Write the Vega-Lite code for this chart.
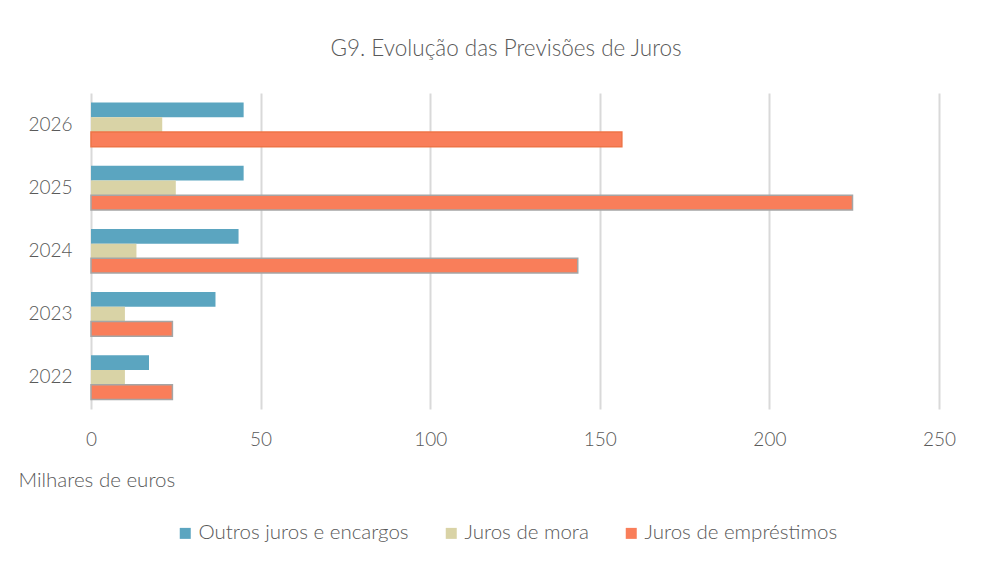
{
  "$schema": "https://vega.github.io/schema/vega-lite/v6.json",
  "autosize": "none",
  "width": 848,
  "height": 316,
  "padding": {"left": 91, "top": 93, "right": 48, "bottom": 155},
  "background": "white",
  "config": {
    "font": "Lato",
    "view": {"stroke": null}
  },
  "title": {
    "text": "G9. Evolução das Previsões de Juros",
    "anchor": "middle",
    "frame": "group",
    "offset": 33,
    "dx": -9,
    "fontSize": 22.5,
    "fontWeight": 300,
    "font": "Lato",
    "color": "#595959"
  },
  "data": {
    "values": [
      {"ano": "2026", "serie": "Outros juros e encargos", "valor": 45},
      {"ano": "2026", "serie": "Juros de mora", "valor": 21},
      {"ano": "2026", "serie": "Juros de empréstimos", "valor": 156.5},
      {"ano": "2025", "serie": "Outros juros e encargos", "valor": 45},
      {"ano": "2025", "serie": "Juros de mora", "valor": 25},
      {"ano": "2025", "serie": "Juros de empréstimos", "valor": 224.5},
      {"ano": "2024", "serie": "Outros juros e encargos", "valor": 43.5},
      {"ano": "2024", "serie": "Juros de mora", "valor": 13.4},
      {"ano": "2024", "serie": "Juros de empréstimos", "valor": 143.5},
      {"ano": "2023", "serie": "Outros juros e encargos", "valor": 36.7},
      {"ano": "2023", "serie": "Juros de mora", "valor": 10},
      {"ano": "2023", "serie": "Juros de empréstimos", "valor": 24},
      {"ano": "2022", "serie": "Outros juros e encargos", "valor": 17.1},
      {"ano": "2022", "serie": "Juros de mora", "valor": 10},
      {"ano": "2022", "serie": "Juros de empréstimos", "valor": 24}
    ]
  },
  "mark": {"type": "bar", "strokeWidth": 1.5},
  "encoding": {
    "y": {
      "field": "ano",
      "type": "nominal",
      "sort": ["2026", "2025", "2024", "2023", "2022"],
      "scale": {"paddingInner": 0.3, "paddingOuter": 0.15},
      "axis": {
        "title": null,
        "domain": false,
        "ticks": false,
        "labelFontSize": 19,
        "labelFontWeight": 300,
        "labelColor": "#595959",
        "labelPadding": 19
      }
    },
    "yOffset": {
      "field": "serie",
      "type": "nominal",
      "sort": ["Outros juros e encargos", "Juros de mora", "Juros de empréstimos"],
      "scale": {"paddingInner": 0, "paddingOuter": 0}
    },
    "x": {
      "field": "valor",
      "type": "quantitative",
      "scale": {"domain": [0, 250], "nice": false},
      "axis": {
        "values": [0, 50, 100, 150, 200, 250],
        "domain": false,
        "ticks": false,
        "grid": true,
        "gridColor": "#D9D9D9",
        "gridWidth": 2,
        "labelFlush": false,
        "labelFontSize": 19,
        "labelFontWeight": 300,
        "labelColor": "#595959",
        "labelPadding": 21,
        "title": "Milhares de euros",
        "titleX": -73,
        "titleY": 71,
        "titleAlign": "left",
        "titleAnchor": "start",
        "titleBaseline": "middle",
        "titleFontSize": 20.5,
        "titleFontWeight": 300,
        "titleColor": "#595959"
      }
    },
    "color": {
      "field": "serie",
      "type": "nominal",
      "sort": ["Outros juros e encargos", "Juros de mora", "Juros de empréstimos"],
      "scale": {
        "domain": ["Outros juros e encargos", "Juros de mora", "Juros de empréstimos"],
        "range": ["#5BA5C0", "#D9D3A6", "#F97E5A"]
      },
      "legend": {
        "title": null,
        "orient": "none",
        "direction": "horizontal",
        "legendX": 84,
        "legendY": 430,
        "symbolType": "square",
        "symbolSize": 121,
        "symbolStrokeWidth": 0,
        "labelFontSize": 20.5,
        "labelFontWeight": 300,
        "labelColor": "#595959",
        "labelLimit": 400,
        "labelOffset": 3,
        "columnPadding": 32
      }
    },
    "stroke": {
      "condition": [
        {"test": "datum.serie === 'Juros de empréstimos' && datum.ano === '2026'", "value": "#EE7447"},
        {"test": "datum.serie === 'Juros de empréstimos'", "value": "#A5A5A5"}
      ],
      "value": null
    }
  }
}
